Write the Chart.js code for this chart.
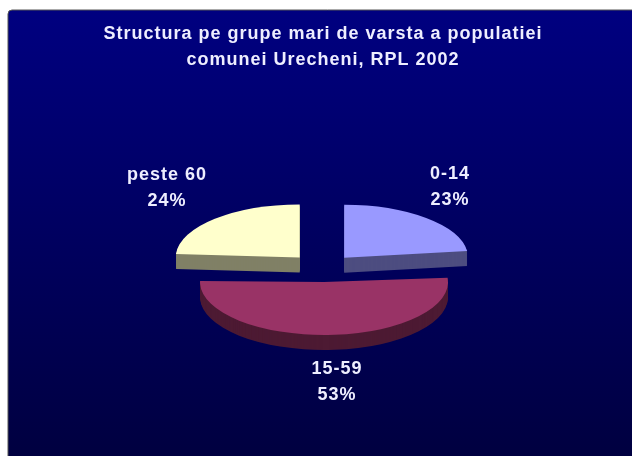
<!DOCTYPE html>
<html>
<head>
<meta charset="utf-8">
<style>
  html, body { margin: 0; padding: 0; background: #fff; overflow: hidden; }
  #wrap { width: 632px; height: 456px; overflow: hidden; }
  canvas { display: block; filter: blur(0.5px); }
</style>
<script src="https://cdn.jsdelivr.net/npm/chart.js@4/dist/chart.umd.min.js"></script>
</head>
<body>
<div id="wrap"><canvas id="pie" width="642" height="456" style="width:642px;height:456px"></canvas></div>
<script>
const titleLines = ['Structura pe grupe mari de varsta a populatiei', 'comunei Urecheni, RPL 2002'];
const categories = ['0-14', '15-59', 'peste 60'];
const shares = [23, 53, 24];
const percentLabels = ['23%', '53%', '24%'];

const sliceColors = ['#9999ff', '#993366', '#ffffcc'];
const sideColors = ['#4d4d80', '#4d1a33', '#808066'];
const sliceOffsets = [128, 132, 136];
const labelNudge = [[127, -81], [14, 114], [-156, -80]];

const textColor = '#eeeeff';
const tilt = 0.427;
const depth = 15;

// white page, rounded navy panel running off the right and bottom edges
const panel = {
  id: 'panel',
  beforeDraw(chart) {
    const ctx = chart.ctx;
    ctx.save();
    ctx.fillStyle = '#fff';
    ctx.fillRect(0, 0, chart.width, chart.height);
    const grad = ctx.createLinearGradient(0, 10, 0, 456);
    grad.addColorStop(0, '#000080');
    grad.addColorStop(1, '#000040');
    ctx.beginPath();
    ctx.roundRect(8, 10, 700, 500, 4);
    ctx.fillStyle = grad;
    ctx.fill();
    ctx.strokeStyle = '#555';
    ctx.lineWidth = 1;
    ctx.stroke();
    ctx.restore();
    ctx.letterSpacing = '1px';
  }
};

// the pie is flattened and extruded by redrawing the library's arcs
const tiltedPie = {
  id: 'tiltedPie',
  beforeDatasetsDraw(chart) {
    const ctx = chart.ctx;
    const arcs = chart.getDatasetMeta(0).data;
    const paint = (arc, i, color, dy) => {
      const off = sliceOffsets[i];
      const fix = 1 - Math.sin(Math.min(Math.PI, arc.circumference));
      const copy = Object.create(arc);
      copy.outerRadius = arc.outerRadius - off / 4 * fix;
      copy.options = Object.assign({}, arc.options, {
        backgroundColor: color, borderColor: color, borderWidth: 0, offset: off
      });
      ctx.save();
      ctx.translate(arc.x, arc.y + dy);
      ctx.scale(1, tilt);
      ctx.translate(-arc.x, -arc.y);
      copy.draw(ctx);
      ctx.restore();
    };
    [0, 2, 1].forEach(i => {
      for (let dy = depth; dy > 0; dy--) paint(arcs[i], i, sideColors[i], dy);
      paint(arcs[i], i, sliceColors[i], 0);
    });
    return false;
  },
  afterDraw(chart) {
    const ctx = chart.ctx;
    const arc = chart.getDatasetMeta(0).data[0];
    ctx.save();
    ctx.font = 'bold 18px "Liberation Sans"';
    ctx.fillStyle = textColor;
    ctx.textAlign = 'center';
    ctx.textBaseline = 'middle';
    categories.forEach((name, i) => {
      const x = arc.x + labelNudge[i][0];
      const y = arc.y + labelNudge[i][1];
      ctx.fillText(name, x, y - 13);
      ctx.fillText(percentLabels[i], x, y + 13);
    });
    ctx.restore();
  }
};

new Chart(document.getElementById('pie'), {
  type: 'pie',
  data: {
    labels: categories,
    datasets: [{
      data: shares,
      backgroundColor: sliceColors,
      offset: sliceOffsets,
      borderWidth: 0,
      radius: 124
    }]
  },
  options: {
    responsive: false,
    animation: false,
    layout: { padding: { left: 4 } },
    plugins: {
      legend: { display: false },
      tooltip: { enabled: false },
      title: {
        display: true,
        text: titleLines,
        color: textColor,
        font: { family: '"Liberation Sans"', size: 18, weight: 'bold', lineHeight: 1.444 },
        padding: { top: 21, bottom: 7 }
      }
    }
  },
  plugins: [panel, tiltedPie]
});
</script>
</body>
</html>
